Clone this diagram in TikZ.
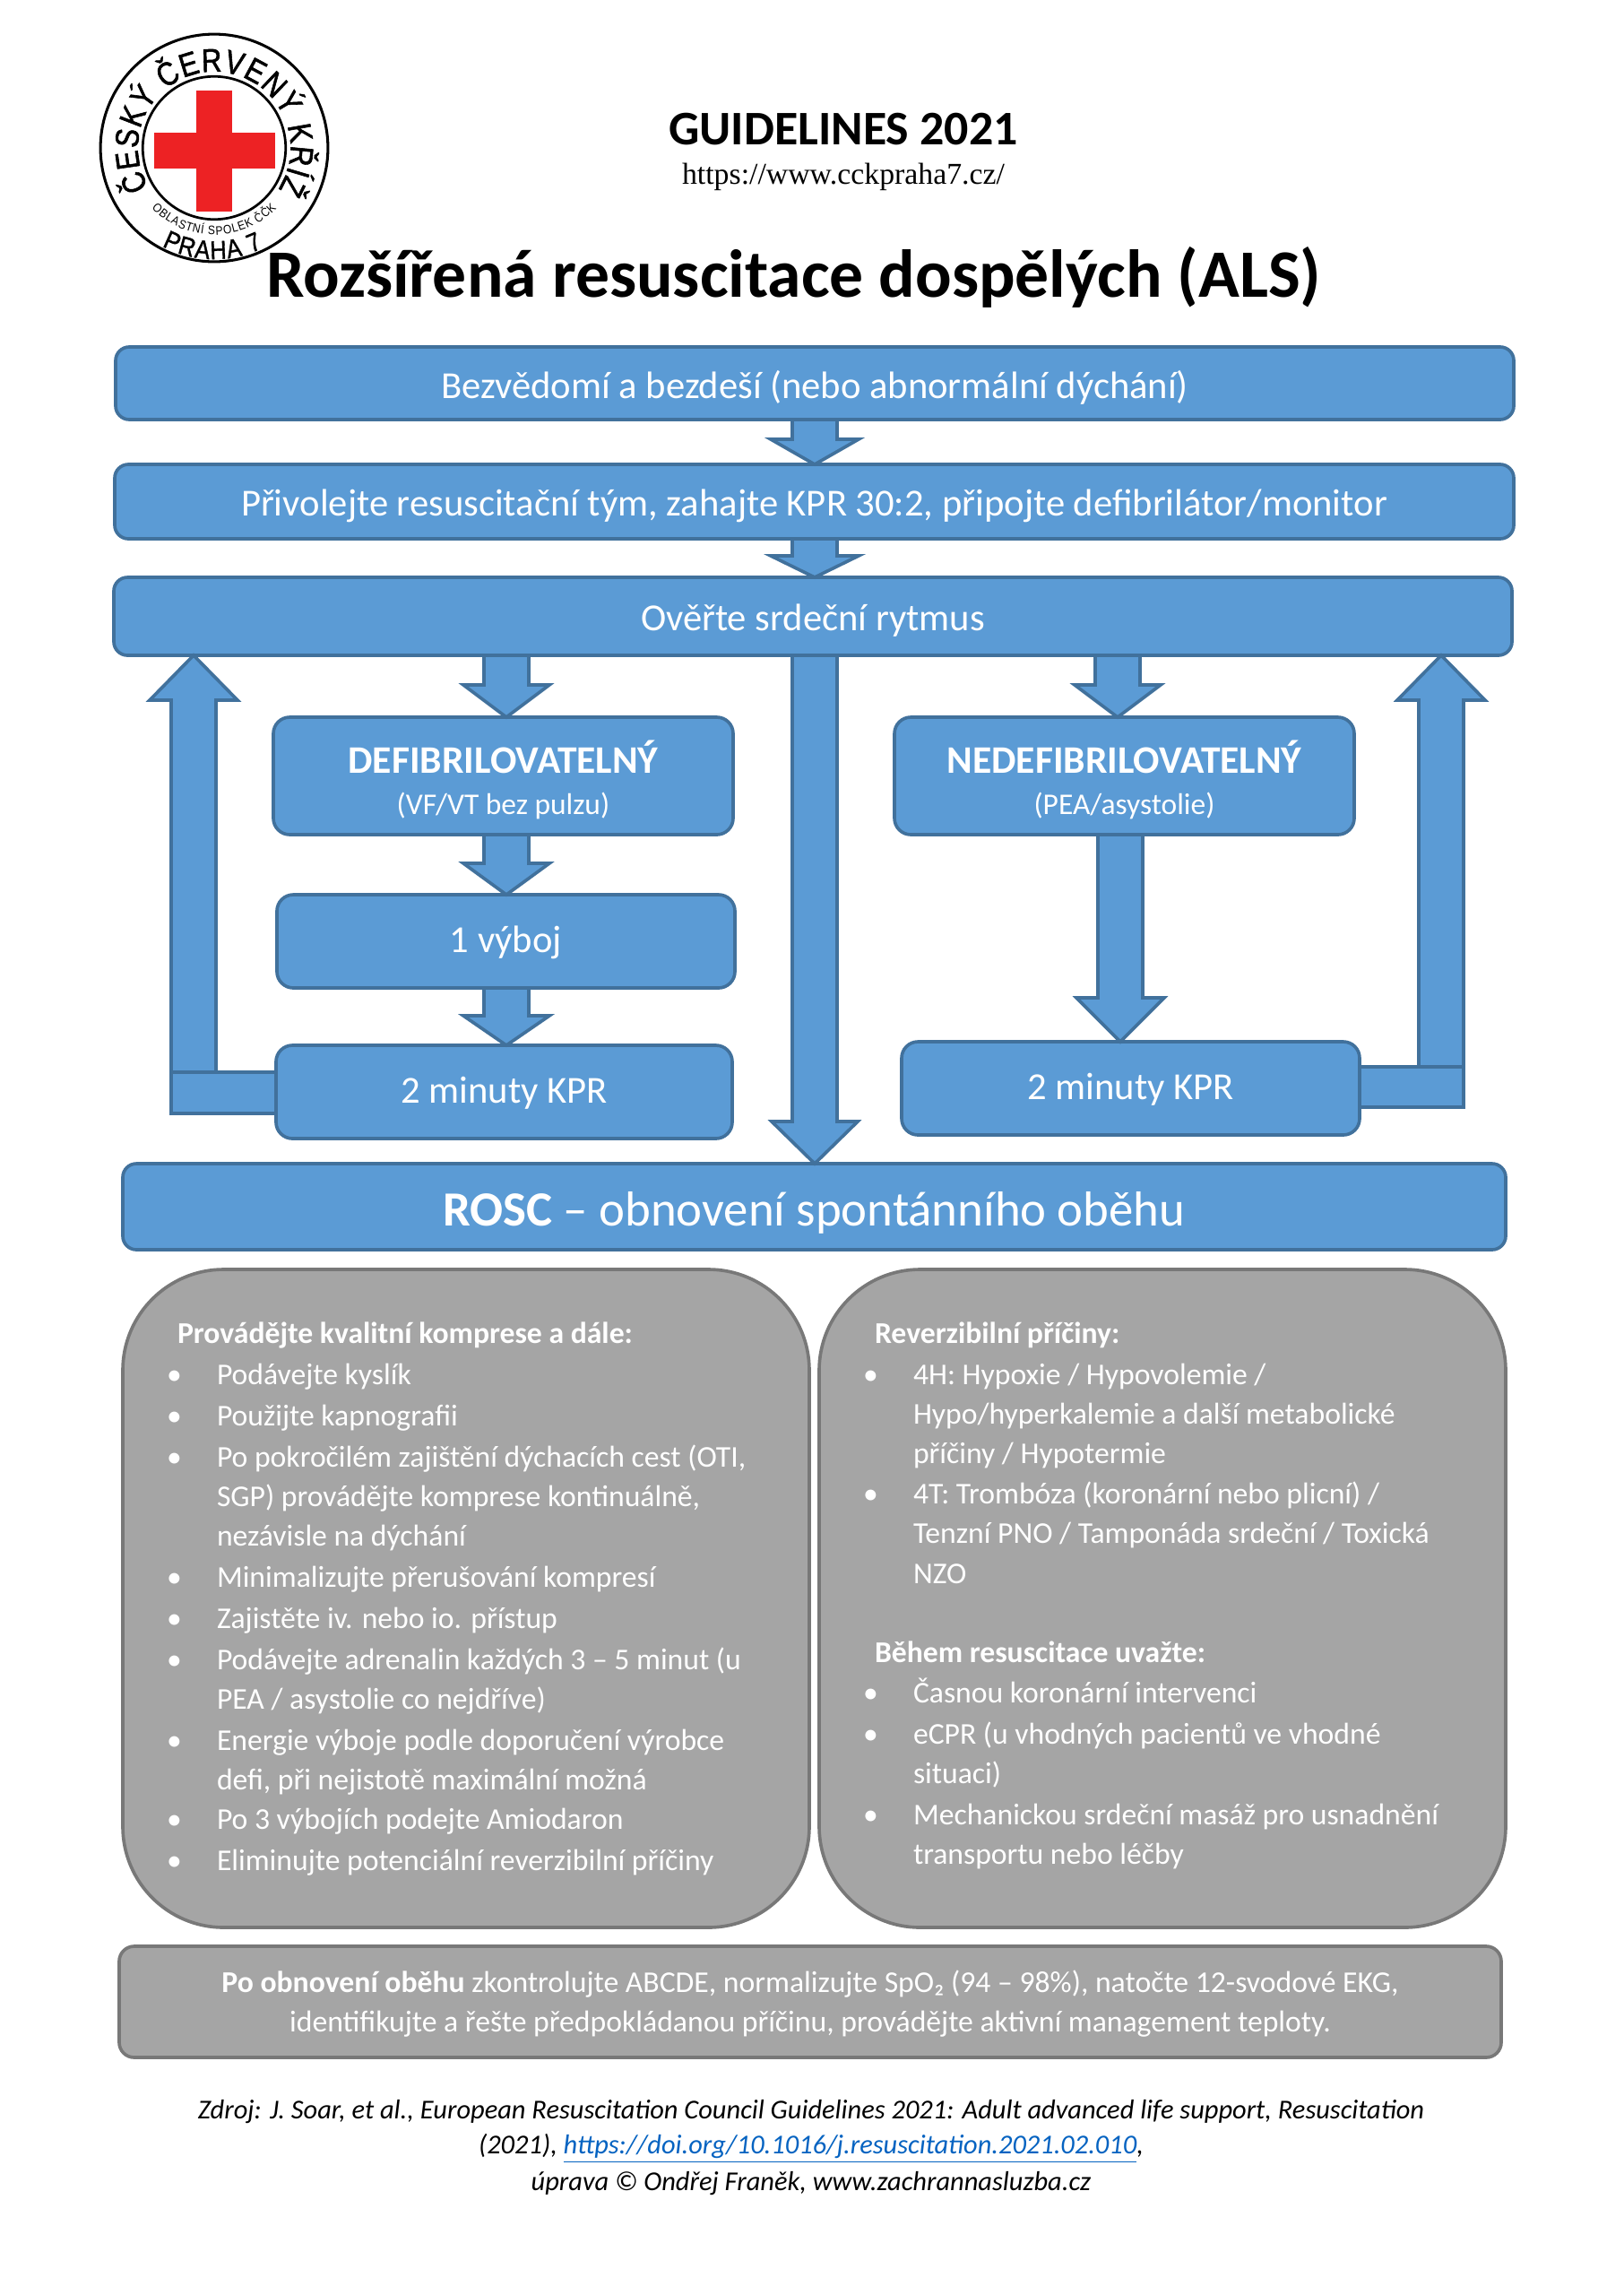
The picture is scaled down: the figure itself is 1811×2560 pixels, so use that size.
\documentclass[tikz,border=0pt]{standalone}
\usepackage{fontspec}
\setmainfont{Carlito}
\newfontfamily\urlfont{Liberation Serif}
\newfontfamily\logofont[FakeStretch=0.85,FakeBold=1.5]{Liberation Sans}
\newfontfamily\logomid[FakeStretch=0.88,FakeBold=1.2]{Liberation Sans}
\newfontfamily\logosmall[FakeStretch=0.88]{Liberation Sans}
\usetikzlibrary{calc,decorations.text}
\definecolor{bfill}{HTML}{5B9BD5}
\definecolor{bline}{HTML}{41719C}
\definecolor{gfill}{HTML}{A5A5A5}
\definecolor{gline}{HTML}{787878}
\definecolor{crossred}{HTML}{ED2224}
\definecolor{linkblue}{HTML}{0563C1}
\newcommand{\fsz}[1]{\fontsize{#1}{#1}\selectfont}
% label with its baseline #1 pt below the centre of the box
\newcommand{\dn}[2]{\raisebox{-#1pt}[0pt][0pt]{#2}}
\def\pxu{0.3286}
% box: style, name, x1, y1, x2, y2, text
\newcommand{\pxbox}[7]{%
  \pgfmathsetmacro\pxw{(#5-#3)*\pxu}%
  \pgfmathsetmacro\pxh{(#6-#4)*\pxu}%
  \node[#1,minimum width=\pxw pt,minimum height=\pxh pt] (#2) at ({(#3+#5)/2},{(#4+#6)/2}) {#7};}
% block arrow: start, tip, half shaft, half head, head length (sign = direction)
\newcommand{\blockarrow}[5]{%
  \draw[blockline] ($(#1)+(-#3,0)$) -- ($(#2)+(-#3,-#5)$) -- ($(#2)+(-#4,-#5)$) -- (#2)
    -- ($(#2)+(#4,-#5)$) -- ($(#2)+(#3,-#5)$) -- ($(#1)+(#3,0)$) -- cycle;}
\tikzset{
  bluebox/.style={draw=bline,fill=bfill,line width=1.2pt,rounded corners=5pt,inner sep=0pt,outer sep=0pt,text=white,align=center,font=\fsz{14}},
  flowbox/.style={bluebox,rounded corners=6pt},
  greybox/.style={draw=gline,fill=gfill,line width=1.2pt,rounded corners=37pt,inner sep=0pt,outer sep=0pt},
  notebox/.style={greybox,rounded corners=5.5pt},
  blockline/.style={draw=bline,fill=bfill,line width=1.2pt,line join=miter},
  wl/.style={anchor=base west,inner sep=0pt,outer sep=0pt,text=white,font=\fsz{11.06}},
  wb/.style={wl,font=\fsz{11.06}\bfseries},
  wc/.style={anchor=base,inner sep=0pt,outer sep=0pt,text=white,font=\fsz{11.07}},
  src/.style={anchor=base,inner sep=0pt,outer sep=0pt,text=black,font=\fsz{10}\itshape},
}
\begin{document}
\begin{tikzpicture}[x=0.3286pt,y=-0.3286pt]
\useasboundingbox (0,0) rectangle (1811,2560);
\fill[white] (0,0) rectangle (1811,2560);

% logo
\coordinate (logo) at (239,165);
\begin{scope}[shift={(logo)},x=0.3286pt,y=0.3286pt]
  \draw[black,line width=1pt] (0,0) circle[radius=41.7pt];
  \draw[black,line width=0.9pt] (0,0) circle[radius=26.2pt];
  \fill[crossred] (-20,64) rectangle (20,-71);
  \fill[crossred] (-67,17) rectangle (68,-23);
  \path[decorate,decoration={text along path,text align={fit to path},
     text={|\fsz{12}\logofont|ČESKÝ ČERVENÝ KŘÍŽ}}]
     (211:85) arc[start angle=211,end angle=-33,radius=27.93pt];
  \path[decorate,decoration={text along path,text align={fit to path},
     text={|\fsz{4.5}\logosmall|OBLASTNÍ SPOLEK ČČK}}]
     (224:97) arc[start angle=224,end angle=316,radius=31.87pt];
  \path[decorate,decoration={text along path,text align={fit to path},
     text={|\fsz{9.5}\logomid|PRAHA 7}}]
     (242:124) arc[start angle=242,end angle=296,radius=40.75pt];
\end{scope}

% heading
\node[inner sep=0pt,font=\fsz{17.7}\bfseries] (guide) at (941,144) {GUIDELINES 2021};
\node[inner sep=0pt,font=\fsz{11.1}\urlfont] (web) at (941,197) {https://www.cckpraha7.cz/};
\node[inner sep=0pt,font=\fsz{24.85}\bfseries] (title) at (886,309) {Rozšířená resuscitace dospělých (ALS)};

% flow boxes
\pxbox{bluebox}{b1}{129}{387}{1689}{468}{\dn{5.6}{Bezvědomí a bezdeší (nebo abnormální dýchání)}}
\pxbox{bluebox}{b2}{128}{518}{1689}{601}{\dn{5.1}{Přivolejte resuscitační tým, zahajte KPR 30:2, připojte defibrilátor/monitor}}
\pxbox{bluebox}{b3}{127}{644}{1687}{731}{\dn{5.1}{Ověřte srdeční rytmus}}
\pxbox{flowbox}{defib}{305}{800}{818}{931}{\rule{0pt}{15pt}{\fsz{14.3}\bfseries DEFIBRILOVATELNÝ}\\[1pt]{\fsz{11}(VF/VT bez pulzu)}}
\pxbox{flowbox}{nedefib}{998}{800}{1511}{931}{\rule{0pt}{15pt}{\fsz{14.3}\bfseries NEDEFIBRILOVATELNÝ}\\[1pt]{\fsz{11}(PEA/asystolie)}}
\pxbox{flowbox}{shock}{309}{998}{820}{1102}{\dn{4}{1 výboj}}
\pxbox{flowbox}{cprl}{308}{1166}{817}{1270}{\dn{4}{2 minuty KPR}}
\pxbox{flowbox}{cprr}{1006}{1162}{1517}{1266}{\dn{4}{2 minuty KPR}}
\pxbox{bluebox}{rosc}{137}{1298}{1680}{1394}{\dn{7.2}{\fsz{18}{\bfseries ROSC} – obnovení spontánního oběhu}}

% connector axes
\coordinate (ax1) at (909,0);
\coordinate (axl) at (565,0);
\coordinate (axr) at (1247,0);
\coordinate (axn) at (1250,0);
\coordinate (axul) at (216,0);
\coordinate (axur) at (1608,0);
\coordinate (elbl) at (191,1196);
\coordinate (elbr) at (1633,1190);

% elbows
\draw[blockline] (elbl) rectangle (cprl.west |- 0,1242);
\draw[blockline] (elbr) rectangle (cprr.east |- 0,1235);

% block arrows
\blockarrow{b1.south -| ax1}{b2.north -| ax1}{25}{49}{28}
\blockarrow{b2.south -| ax1}{b3.north -| ax1}{25}{49}{24}
\blockarrow{b3.south -| axl}{defib.north -| axl}{25}{48}{36}
\blockarrow{b3.south -| axr}{nedefib.north -| axr}{25}{48}{36}
\blockarrow{b3.south -| ax1}{rosc.north -| ax1}{25}{48}{47}
\blockarrow{defib.south -| axl}{shock.north -| axl}{25}{48}{35}
\blockarrow{shock.south -| axl}{cprl.north -| axl}{25}{48}{33}
\blockarrow{nedefib.south -| axn}{cprr.north -| axn}{25}{49}{49}
\blockarrow{elbl -| axul}{b3.south -| axul}{25}{49}{-50}
\blockarrow{elbr -| axur}{b3.south -| axur}{25}{49}{-50}

% grey panels
\pxbox{greybox}{pl}{137}{1416}{903}{2150}{}
\pxbox{greybox}{pr}{914}{1416}{1680}{2150}{}
\pxbox{notebox}{pb}{133}{2171}{1675}{2295}{}

% left panel text
\node[wb] (l0) at (198,1498) {Provádějte kvalitní komprese a dále:};
\foreach \n/\y in {a/1544,b/1590,c/1636,d/1770,e/1816,f/1862,g/1952,h/2040,i/2086}
  \node[wl] (lb\n) at (186,\y) {•};
\node[wl] (l1) at (242,1544) {Podávejte kyslík};
\node[wl] (l2) at (242,1590) {Použijte kapnografii};
\node[wl] (l3) at (242,1636) {Po pokročilém zajištění dýchacích cest (OTI,};
\node[wl] (l4) at (242,1680) {SGP) provádějte komprese kontinuálně,};
\node[wl] (l5) at (242,1724) {nezávisle na dýchání};
\node[wl] (l6) at (242,1770) {Minimalizujte přerušování kompresí};
\node[wl] (l7) at (242,1816) {Zajistěte iv. nebo io. přístup};
\node[wl] (l8) at (242,1862) {Podávejte adrenalin každých 3 – 5 minut (u};
\node[wl] (l9) at (242,1906) {PEA / asystolie co nejdříve)};
\node[wl] (l10) at (242,1952) {Energie výboje podle doporučení výrobce};
\node[wl] (l11) at (242,1996) {defi, při nejistotě maximální možná};
\node[wl] (l12) at (242,2040) {Po 3 výbojích podejte Amiodaron};
\node[wl] (l13) at (242,2086) {Eliminujte potenciální reverzibilní příčiny};

% right panel text
\node[wb] (r0) at (976,1498) {Reverzibilní příčiny:};
\foreach \n/\y in {a/1544,b/1677,c/1899,d/1945,e/2035}
  \node[wl] (rb\n) at (963,\y) {•};
\node[wl] (r1) at (1019,1544) {4H: Hypoxie / Hypovolemie /};
\node[wl] (r2) at (1019,1588) {Hypo/hyperkalemie a další metabolické};
\node[wl] (r3) at (1019,1632) {příčiny / Hypotermie};
\node[wl] (r4) at (1019,1677) {4T: Trombóza (koronární nebo plicní) /};
\node[wl] (r5) at (1019,1721) {Tenzní PNO / Tamponáda srdeční / Toxická};
\node[wl] (r6) at (1019,1766) {NZO};
\node[wb] (r7) at (976,1854) {Během resuscitace uvažte:};
\node[wl] (r8) at (1019,1899) {Časnou koronární intervenci};
\node[wl] (r9) at (1019,1945) {eCPR (u vhodných pacientů ve vhodné};
\node[wl] (r10) at (1019,1989) {situaci)};
\node[wl] (r11) at (1019,2035) {Mechanickou srdeční masáž pro usnadnění};
\node[wl] (r12) at (1019,2079) {transportu nebo léčby};

% bottom note
\node[wc] (n1) at (904,2222) {{\bfseries Po obnovení oběhu} zkontrolujte ABCDE, normalizujte SpO₂ (94 – 98\%), natočte 12-svodové EKG,};
\node[wc] (n2) at (904,2266) {identifikujte a řešte předpokládanou příčinu, provádějte aktivní management teploty.};

% source
\node[src] (s1) at (905,2363) {Zdroj: J. Soar, et al., European Resuscitation Council Guidelines 2021: Adult advanced life support, Resuscitation};
\node[src] (s2) at (905,2402) {(2021), \textcolor{linkblue}{\underline{https://doi.org/10.1016/j.resuscitation.2021.02.010}},};
\node[src] (s3) at (905,2443) {úprava © Ondřej Franěk, www.zachrannasluzba.cz};
\end{tikzpicture}
\end{document}
